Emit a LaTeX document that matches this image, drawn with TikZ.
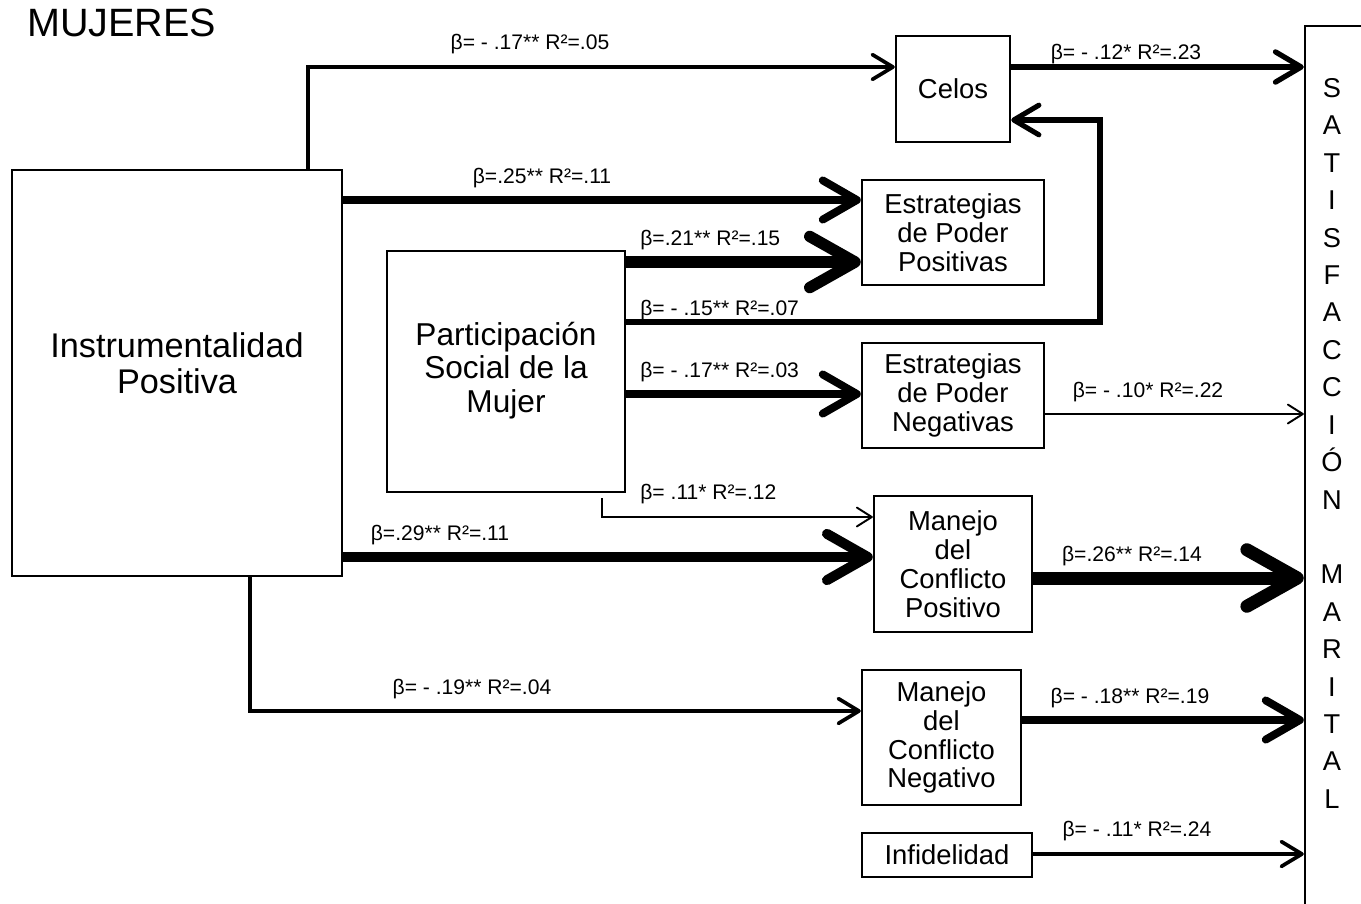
\documentclass[tikz,border=0pt]{standalone}
\usepackage{fontspec}
\setmainfont{Liberation Sans}
\usetikzlibrary{arrows.meta,calc}
\begin{document}
\begin{tikzpicture}[x=0.02cm,y=-0.02cm,
  box/.style={draw, line width=1.4pt, inner sep=0pt, align=center},
  smallbox/.style={box, font=\fontsize{15.6}{16.4}\selectfont},
  lab/.style={font=\fontsize{12}{14}\selectfont, inner sep=0pt},
  arr/.style={-{Straight Barb[round,length=5pt 3.2,width=7pt 3.4]}},
  wa/.style={line width=1.1pt},
  wb/.style={line width=2.1pt},
  wc/.style={line width=2.9pt},
  wd/.style={line width=3.0pt},
  we/.style={line width=4.5pt},
  wf/.style={line width=5.7pt},
  wg/.style={line width=6.5pt},
  wh/.style={line width=7.4pt}]
\clip (0,0) rectangle (1361,903);
\fill[white] (0,0) rectangle (1361,903);

\node[anchor=west, inner sep=0pt, font=\fontsize{22.5}{24}\selectfont] (title) at (27,23) {MUJERES};

\node[box, minimum width=6.6cm, minimum height=8.12cm, font=\fontsize{19.5}{21}\selectfont, text depth=11.3pt] (instr) at (177,373) {Instrumentalidad\\Positiva};
\node[box, minimum width=4.76cm, minimum height=4.82cm, font=\fontsize{18}{19}\selectfont, text depth=5pt] (part) at (506,371.5) {Participación\\Social de la\\Mujer};
\node[smallbox, minimum width=2.28cm, minimum height=2.12cm] (celos) at (953,89) {Celos};
\node[smallbox, minimum width=3.64cm, minimum height=2.1cm] (epp) at (953,232.5) {Estrategias\\de Poder\\Positivas};
\node[smallbox, minimum width=3.64cm, minimum height=2.1cm] (epn) at (953,395.5) {Estrategias\\de Poder\\Negativas};
\node[smallbox, minimum width=3.16cm, minimum height=2.72cm] (mcp) at (953,564) {Manejo\\del\\Conflicto\\Positivo};
\node[smallbox, minimum width=3.18cm, minimum height=2.7cm] (mcn) at (941.5,737.5) {Manejo\\del\\Conflicto\\Negativo};
\node[smallbox, minimum width=3.4cm, minimum height=0.88cm] (inf) at (947,855) {Infidelidad};
\node[box, minimum width=2.3cm, minimum height=19.48cm] (sat) at (1362.5,513) {};
\node[anchor=north, inner sep=0pt, align=center, font=\fontsize{15.5}{21.3}\selectfont] (sattext) at (1332,78)
  {S\\A\\T\\I\\S\\F\\A\\C\\C\\I\\Ó\\N\\[21.3pt]M\\A\\R\\I\\T\\A\\L};

% connectors
\draw[wb, arr] (instr.north -| 308,0) -- (308,67) -- (celos.west |- 0,67);
\draw[we, arr] (instr.east |- 0,200) -- (epp.west |- 0,200);
\draw[wg, arr] (part.east |- 0,262) -- (epp.west |- 0,262);
\draw[wc, arr] (part.east |- 0,322) -- (1100,322) -- (1100,120) -- (celos.east |- 0,120);
\draw[we, arr] (part.east |- 0,394) -- (epn.west |- 0,394);
\draw[wa, arr] ($(part.south -| 602,0)+(0,5)$) -- (602,517) -- (mcp.west |- 0,517);
\draw[wf, arr] (instr.east |- 0,557) -- (mcp.west |- 0,557);
\draw[wb, arr] (instr.south -| 250,0) -- (250,711) -- (mcn.west |- 0,711);
\draw[wd, arr] (celos.east |- 0,67) -- (sat.west |- 0,67);
\draw[wa, arr] (epn.east |- 0,414) -- (sat.west |- 0,414);
\draw[wh, arr] (mcp.east |- 0,578) -- (sat.west |- 0,578);
\draw[we, arr] (mcn.east |- 0,720) -- (sat.west |- 0,720);
\draw[wb, arr] (inf.east |- 0,854) -- (sat.west |- 0,854);

% labels
\node[lab] (l1) at (530,44) {β= - .17** R²=.05};
\node[lab] (l2) at (542,178) {β=.25** R²=.11};
\node[lab, anchor=west] (l3) at (640,240) {β=.21** R²=.15};
\node[lab, anchor=west] (l4) at (640,310) {β= - .15** R²=.07};
\node[lab, anchor=west] (l5) at (640,372) {β= - .17** R²=.03};
\node[lab, anchor=west] (l6) at (640,494) {β= .11* R²=.12};
\node[lab] (l7) at (440,535) {β=.29** R²=.11};
\node[lab] (l8) at (472,689) {β= - .19** R²=.04};
\node[lab] (l9) at (1126,54) {β= - .12* R²=.23};
\node[lab] (l10) at (1148,392) {β= - .10* R²=.22};
\node[lab] (l11) at (1132,556) {β=.26** R²=.14};
\node[lab] (l12) at (1130,698) {β= - .18** R²=.19};
\node[lab] (l13) at (1137,831) {β= - .11* R²=.24};
\end{tikzpicture}
\end{document}
